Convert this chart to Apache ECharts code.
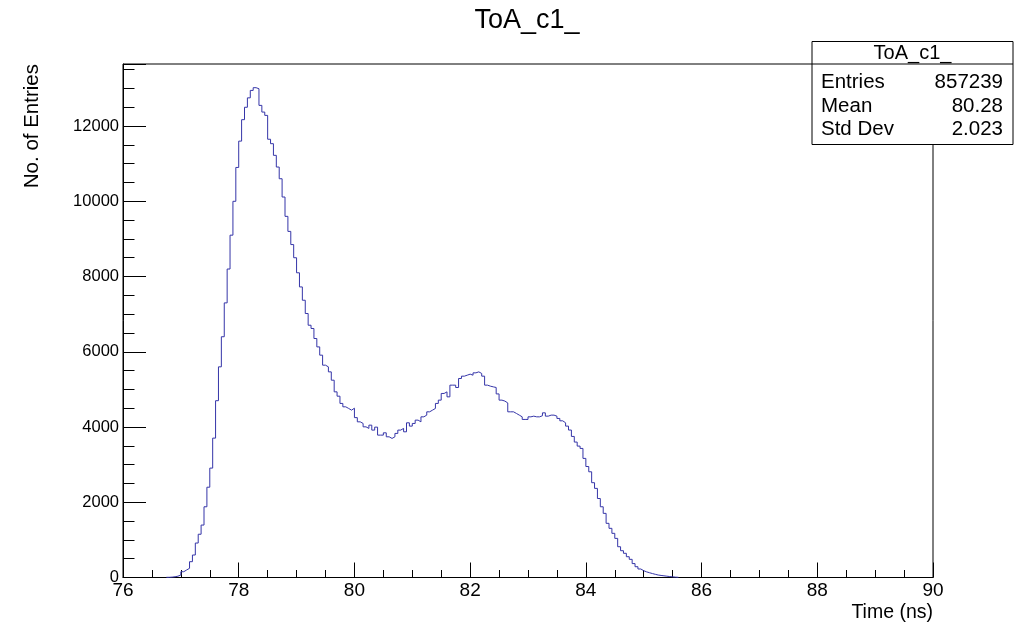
<!DOCTYPE html>
<html>
<head>
<meta charset="utf-8">
<script src="https://cdn.jsdelivr.net/npm/echarts@6/dist/echarts.min.js"></script>
<style>html,body{margin:0;padding:0;background:#fff;}#c{width:1026px;height:624px;}</style>
</head>
<body>
<div id="c"></div>
<script>
// Histogram: ToA_c1_, bins of 0.05 ns starting at 76.75 ns
const binStart = 76.75;
const binWidth = 0.05;
const counts = [
  5, 10, 20, 35, 66, 154, 200, 244, 420, 598,
  916, 1150, 1394, 1880, 2400, 2908, 3705, 4700, 5600, 6400,
  7300, 8200, 9100, 10000, 10900, 11600, 12170, 12500, 12750, 12948,
  13020, 12993, 12550, 12372, 12284, 11650, 11532, 11222, 10911, 10600,
  10114, 9600, 9200, 8850, 8500, 8100, 7724, 7370, 7017, 6706,
  6619, 6353, 6130, 5910, 5644, 5599, 5466, 5245, 4935, 4820,
  4627, 4537, 4494, 4449, 4500, 4250, 4138, 4095, 4005, 3963,
  4050, 3918, 3997, 3785, 3785, 3846, 3740, 3697, 3740, 3830,
  3918, 3963, 3873, 4112, 4024, 4095, 4183, 4138, 4271, 4316,
  4404, 4449, 4494, 4627, 4715, 4892, 4935, 4802, 5113, 5113,
  5051, 5290, 5352, 5378, 5405, 5378, 5440, 5466, 5423, 5352,
  5113, 5086, 5068, 5051, 4880, 4715, 4690, 4640, 4404, 4404,
  4361, 4316, 4271, 4202, 4202, 4271, 4289, 4271, 4271, 4300,
  4377, 4289, 4316, 4316, 4289, 4228, 4165, 4112, 4024, 3920,
  3750, 3600, 3493, 3431, 3166, 2950, 2810, 2520, 2369, 2100,
  1880, 1705, 1440, 1307, 1174, 1040, 818, 712, 643, 552,
  483, 370, 287, 226, 181, 150, 127, 105, 85, 66,
  55, 45, 35, 25, 18, 10, 5
];
const xTicks = [76, 78, 80, 82, 84, 86, 88, 90];
const yTicks = [0, 2000, 4000, 6000, 8000, 10000, 12000];
const statsTitle = 'ToA_c1_';
const statsRows = [['Entries', '857239'], ['Mean', '80.28'], ['Std Dev', '2.023']];

const data = counts.map((v, i) => [binStart + i * binWidth, v]);
data.push([binStart + counts.length * binWidth, 0]);

const FONT = '"Liberation Sans", Arial, Helvetica, sans-serif';
const chart = echarts.init(document.getElementById('c'), null, {renderer: 'canvas'});

const graphics = [
  {type: 'rect', z: 100, shape: {x: 812, y: 41.5, width: 201, height: 103},
   style: {fill: '#fff', stroke: '#000', lineWidth: 1}},
  {type: 'line', z: 101, shape: {x1: 812, y1: 64, x2: 1013, y2: 64},
   style: {stroke: '#000', lineWidth: 1}},
  {type: 'text', z: 102, x: 912.5, y: 53, style: {text: statsTitle, font: '20px ' + FONT,
   fill: '#000', textAlign: 'center', textVerticalAlign: 'middle'}}
];
statsRows.forEach((r, i) => {
  const y = 82.5 + i * 23.5;
  graphics.push({type: 'text', z: 102, x: 821, y: y, style: {text: r[0], font: '20.5px ' + FONT,
    fill: '#000', textAlign: 'left', textVerticalAlign: 'middle'}});
  graphics.push({type: 'text', z: 102, x: 1003, y: y, style: {text: r[1], font: '20.5px ' + FONT,
    fill: '#000', textAlign: 'right', textVerticalAlign: 'middle'}});
});
graphics.push({type: 'text', z: 102, x: 527, y: 21, style: {text: 'ToA_c1_', font: '27px ' + FONT,
  fill: '#000', textAlign: 'center', textVerticalAlign: 'middle'}});

chart.setOption({
  animation: false,
  backgroundColor: '#fff',
  grid: {left: 123, right: 93, top: 64, bottom: 46.5, show: true, borderColor: '#000', borderWidth: 1,
    backgroundColor: 'transparent'},
  xAxis: {
    type: 'value', min: 76, max: 90, interval: 2,
    name: 'Time (ns)', nameLocation: 'end', nameGap: 0,
    nameTextStyle: {fontFamily: FONT, fontSize: 19.5, color: '#000', align: 'right', verticalAlign: 'top',
      padding: [25, 0, 0, 0]},
    axisLine: {show: true, onZero: false, lineStyle: {color: '#000', width: 1}},
    axisTick: {show: true, inside: true, length: 15, lineStyle: {color: '#000'}},
    minorTick: {show: true, splitNumber: 4, length: 7.5, lineStyle: {color: '#000'}},
    axisLabel: {fontFamily: FONT, fontSize: 19, color: '#000', margin: 4,
      formatter: v => xTicks.includes(v) ? String(v) : ''},
    splitLine: {show: false}
  },
  yAxis: {
    type: 'value', min: 0, max: 13650, interval: 2000,
    name: 'No. of Entries', nameLocation: 'end', nameRotate: 90, nameGap: 0,
    nameTextStyle: {fontFamily: FONT, fontSize: 20.5, color: '#000', align: 'right', verticalAlign: 'bottom',
      padding: [0, 0, 80, 0]},
    axisLine: {show: true, onZero: false, lineStyle: {color: '#000', width: 1}},
    axisTick: {show: true, inside: true, length: 23, lineStyle: {color: '#000'}},
    minorTick: {show: true, splitNumber: 4, length: 11.5, lineStyle: {color: '#000'}},
    axisLabel: {fontFamily: FONT, fontSize: 16.5, color: '#000', margin: 4,
      formatter: v => yTicks.includes(v) ? String(v) : ''},
    splitLine: {show: false}
  },
  series: [{
    type: 'line', step: 'end', data: data, symbol: 'none', silent: true,
    lineStyle: {color: '#3535a8', width: 1}
  }],
  graphic: graphics
});
</script>
</body>
</html>
